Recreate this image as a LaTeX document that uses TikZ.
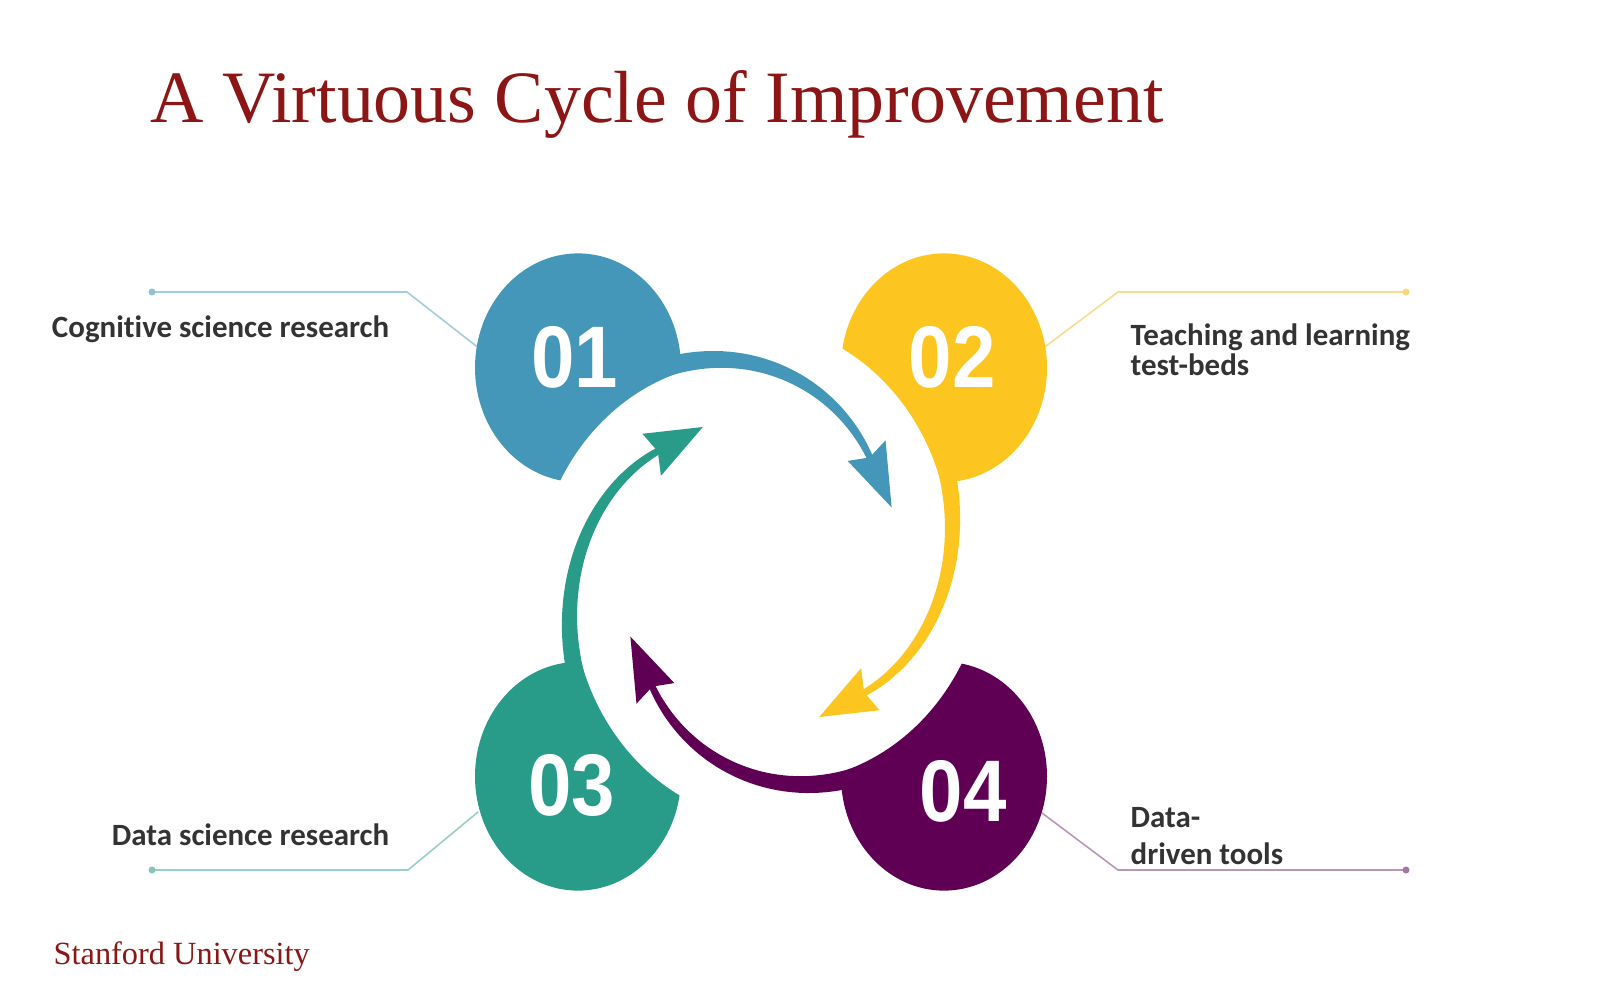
\documentclass[tikz,border=0pt]{standalone}
\usepackage{fontspec}
\setmainfont{Liberation Serif}
\newfontfamily\labelfont{Carlito}[Ligatures=NoCommon]
\newfontfamily\numfont{Liberation Sans}
\usetikzlibrary{calc}
\definecolor{cardinal}{HTML}{8C1515}
\definecolor{ctext}{HTML}{333333}
\definecolor{cblue}{HTML}{4497B9}
\definecolor{cyellow}{HTML}{FCC520}
\definecolor{cteal}{HTML}{289B89}
\definecolor{cpurple}{HTML}{5F0055}
\definecolor{lblue}{HTML}{A3CDDD}
\definecolor{lyellow}{HTML}{F8DE8C}
\definecolor{lteal}{HTML}{98CFC6}
\definecolor{lpurple}{HTML}{B995B8}
\tikzstyle{label text}=[font=\labelfont\bfseries\fontsize{8.8}{8}\selectfont,text=ctext,inner sep=0pt]
\tikzstyle{number}=[font=\numfont\bfseries\fontsize{22.2}{24}\selectfont,text=white,inner sep=0pt]
\tikzstyle{leader}=[line width=0.45pt,line cap=round,line join=round]
% tapered spiral arrow: colour, turn
\newcommand\cyclearrow[2]{%
  \pgfmathsetmacro\angS{-118+#2}\pgfmathsetmacro\angE{-43+#2}%
  \pgfmathsetmacro\angB{-46+#2}\pgfmathsetmacro\angT{-24+#2}%
  \fill[#1] plot[domain=\angS:\angE,samples=40]
    (\x:{152+0.782*(\angB-\x)+0.5*(7+10*(\angB-\x)/66.5)})
    -- plot[domain=\angE:\angS,samples=40]
    (\x:{152+0.782*(\angB-\x)-0.5*(7+10*(\angB-\x)/66.5)}) -- cycle;
  \fill[#1] (\angT:143) -- ($(\angB:152)!0.37!90:(\angT:143)$)
    -- ($(\angB:152)!0.12!(\angT:143)$)
    -- ($(\angB:152)!0.37!-90:(\angT:143)$) -- cycle;
}
% circle with the ring cut out: colour, centre, cut centre
\newcommand\cutcircle[3]{%
  \begin{scope}
    \clip (#2) circle (103);
    \fill[#1,even odd rule] (#2) circle (110) (#3) circle (205);
  \end{scope}
}

\begin{document}
\begin{tikzpicture}[x=0.01cm,y=-0.01cm]
  \fill[white] (0,0) rectangle (1600,1000);
  \useasboundingbox (0,0) rectangle (1600,1000);

  \node[anchor=base west,inner sep=0pt,text=cardinal,font=\fontsize{21}{25}\selectfont]
    (title) at (150,122) {A Virtuous Cycle of Improvement};
  \node[anchor=base west,inner sep=0pt,text=cardinal,font=\fontsize{9.2}{11}\selectfont]
    (stanford) at (53,964) {Stanford University};

  % leader lines
  \coordinate (d1) at (152,292); \coordinate (k1) at (407,292); \coordinate (e1) at (480,349);
  \coordinate (d2) at (1406,292); \coordinate (k2) at (1118,292); \coordinate (e2) at (1042,349);
  \coordinate (d3) at (152,870); \coordinate (k3) at (408,870); \coordinate (e3) at (478,812);
  \coordinate (d4) at (1406,870); \coordinate (k4) at (1118,870); \coordinate (e4) at (1042,813);
  \draw[leader,lblue] (d1) -- (k1) -- (e1);
  \draw[leader,lyellow] (d2) -- (k2) -- (e2);
  \draw[leader,lteal] (d3) -- (k3) -- (e3);
  \draw[leader,lpurple] (d4) -- (k4) -- (e4);
  \fill[lblue!80!cblue] (d1) circle (3.5);
  \fill[lyellow!80!cyellow] (d2) circle (3.5);
  \fill[lteal!80!cteal] (d3) circle (3.5);
  \fill[lpurple!80!cpurple] (d4) circle (3.5);

  \node[label text,anchor=base east] (cog) at (390,337) {Cognitive science research};
  \node[label text,anchor=base east] (dsr) at (390,845) {Data science research};
  \node[label text,anchor=base west] (teach) at (1130,345)
    {\begin{tabular}[t]{@{}l@{}}Teaching and learning\\test-beds\end{tabular}};
  \node[label text,anchor=base west] (tools) at (1130,827)
    {\begin{tabular}[t]{@{}l@{}}Data-\\[2pt]driven tools\end{tabular}};

  % cycle
  \begin{scope}[shift={(761,572)},yscale=1.11]
    \coordinate (c1) at (-183,-184); \coordinate (c2) at (183,-184);
    \coordinate (c3) at (-183,184); \coordinate (c4) at (183,184);
    \cutcircle{cblue}{c1}{-21,16.2}
    \cutcircle{cyellow}{c2}{-16.2,-21}
    \cutcircle{cpurple}{c4}{21,-16.2}
    \cutcircle{cteal}{c3}{16.2,21}
    \cyclearrow{cblue}{0}
    \cyclearrow{cyellow}{90}
    \cyclearrow{cpurple}{180}
    \cyclearrow{cteal}{270}
  \end{scope}

  \node[number] (n1) at (575,357) {\scalebox{1}[1.12]{01}};
  \node[number] (n2) at (952,357) {\scalebox{1}[1.12]{02}};
  \node[number] (n3) at (572,785) {\scalebox{1}[1.12]{03}};
  \node[number] (n4) at (963,791) {\scalebox{1}[1.12]{04}};
\end{tikzpicture}
\end{document}
